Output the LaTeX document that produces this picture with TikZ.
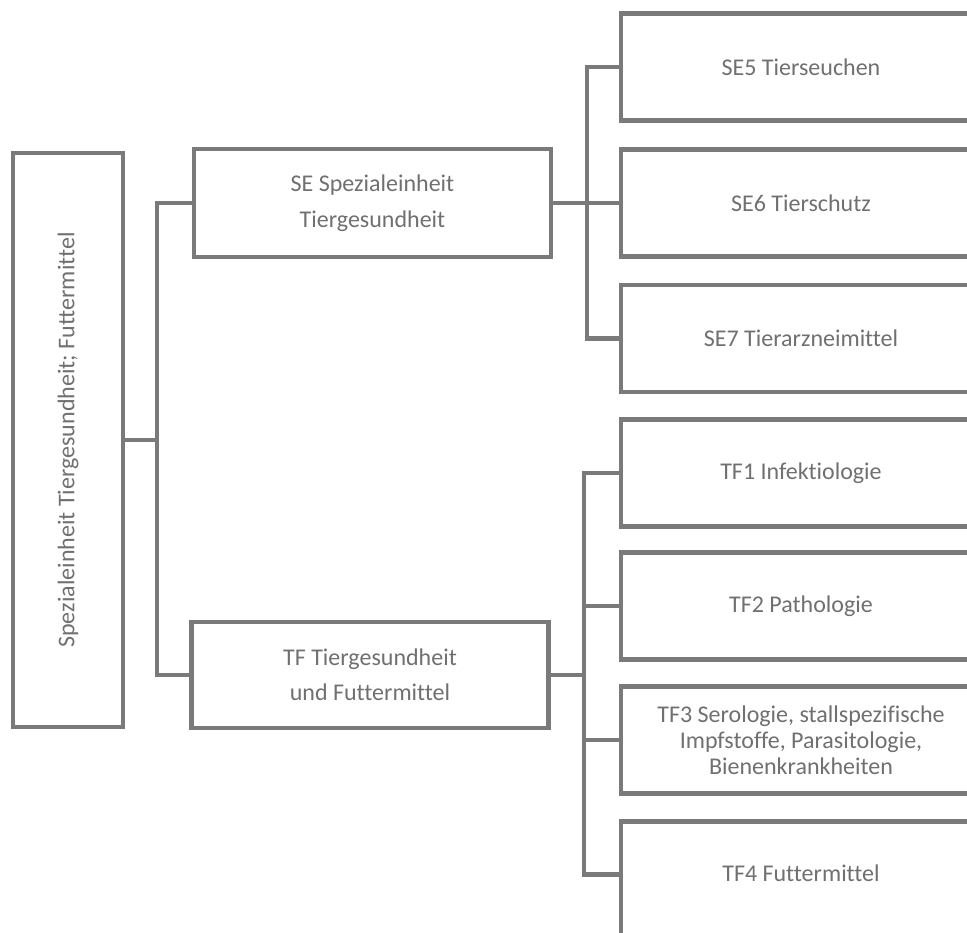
\documentclass[tikz,border=0pt]{standalone}
\usepackage{fontspec}
\setmainfont{Carlito}[Ligatures=NoCommon]
\definecolor{linegray}{HTML}{7A7A7A}
\definecolor{textgray}{HTML}{707070}
\tikzset{
  box/.style={draw=linegray, line width=4.5pt, rectangle, inner sep=0pt, align=center,
              text=textgray, font=\fontsize{24pt}{35.5pt}\selectfont},
  leafbox/.style={box, minimum width=360pt, minimum height=107pt},
  link/.style={draw=linegray, line width=4.5pt, line cap=rect},
}
\begin{document}
\begin{tikzpicture}[x=1pt,y=-1pt]
\path[use as bounding box] (0,0) rectangle (967,933);
\fill[white] (0,0) rectangle (967,933);
\begin{scope}
\clip (0,0) rectangle (967,933);
% root
\node[box, minimum width=110pt, minimum height=574pt] (root) at (68,440)
  {\rotatebox{90}{Spezialeinheit Tiergesundheit; Futtermittel}};
% level 2
\node[box, minimum width=357pt, minimum height=108pt] (se) at (372.5,203)
  {SE Spezialeinheit\\Tiergesundheit};
\node[box, minimum width=357pt, minimum height=106pt] (tf) at (370,675)
  {TF Tiergesundheit\\und Futtermittel};
% SE children
\node[leafbox] (se5) at (801,67) {SE5 Tierseuchen};
\node[leafbox] (se6) at (801,203) {SE6 Tierschutz};
\node[leafbox] (se7) at (801,338.5) {SE7 Tierarzneimittel};
% TF children
\node[leafbox] (tf1) at (801,473) {TF1 Infektiologie};
\node[leafbox] (tf2) at (801,606) {TF2 Pathologie};
\node[leafbox, font=\fontsize{24pt}{26pt}\selectfont] (tf3) at (801,740)
  {TF3 Serologie, stallspezifische\\Impfstoffe, Parasitologie,\\Bienenkrankheiten};
\node[leafbox, minimum height=130pt, text height=18pt, text depth=28pt, anchor=north] (tf4) at (801,819)
  {TF4 Futtermittel};
% junctions
\coordinate (j1) at (157,440);
\coordinate (j2) at (587,203);
\coordinate (j3) at (584,675);
% connectors
\draw[link] (root.east) -- (j1);
\draw[link] (se.west) -| (j1) |- (tf.west);
\draw[link] (se.east) -- (j2);
\draw[link] (se5.west) -| (j2) |- (se7.west);
\draw[link] (se6.west) -- (se6.west -| j2);
\draw[link] (tf.east) -- (j3);
\draw[link] (tf1.west) -| (j3);
\draw[link] (j3) |- ([yshift=12pt]tf4.west);
\draw[link] (tf2.west) -- (tf2.west -| j3);
\draw[link] (tf3.west) -- (tf3.west -| j3);
\end{scope}
\end{tikzpicture}
\end{document}
